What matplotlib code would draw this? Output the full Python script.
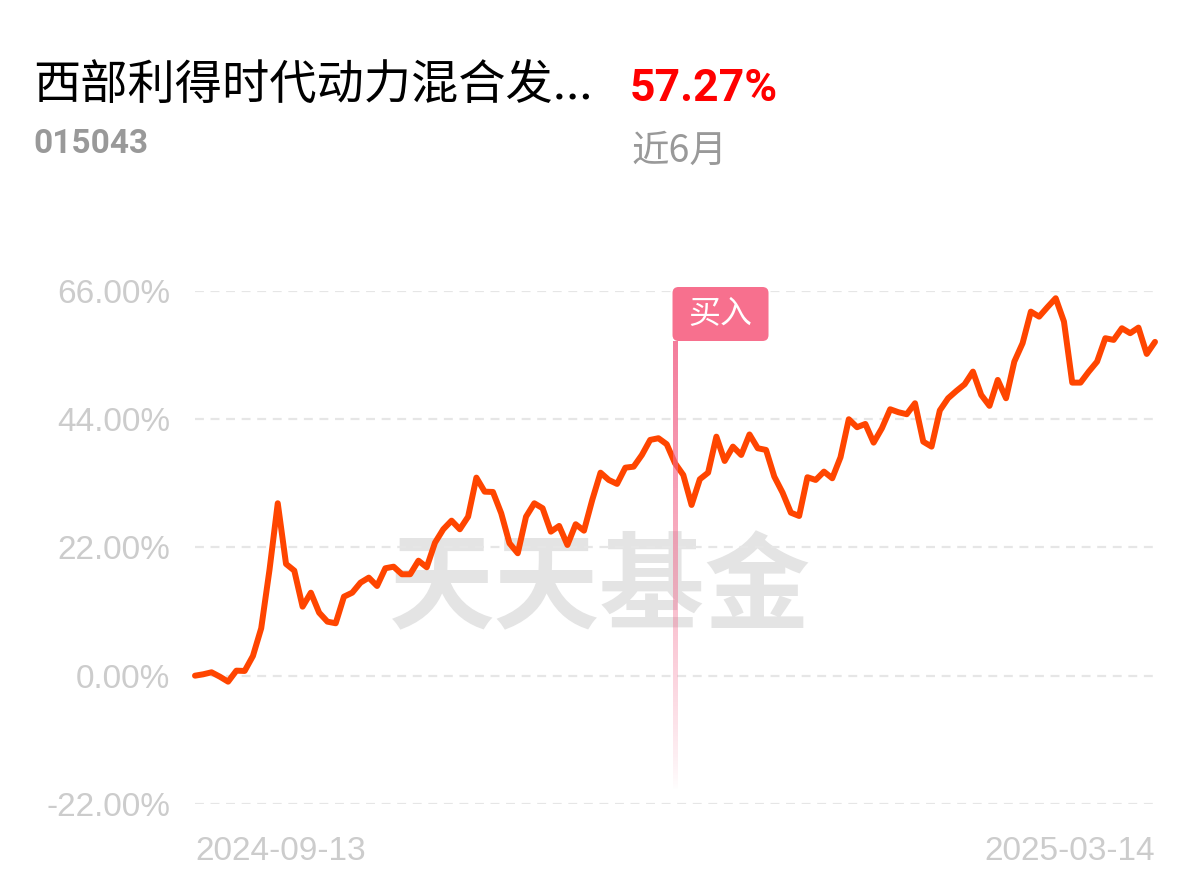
import numpy as np
import matplotlib
matplotlib.use("Agg")
import matplotlib.pyplot as plt
from matplotlib.patches import FancyBboxPatch

plt.rcParams['font.family'] = ['Liberation Sans', 'Noto Sans CJK SC', 'DejaVu Sans']

# cumulative return (%) over the last 6 months, one point per trading day
returns = [
    0.00, 0.24, 0.58, -0.17, -1.03, 0.86, 0.81, 3.38, 8.13, 18.14,
    29.58, 19.17, 18.02, 11.84, 14.24, 10.81, 9.27, 8.99, 13.56, 14.24,
    15.96, 16.82, 15.39, 18.43, 18.70, 17.40, 17.40, 19.73, 18.60, 22.82,
    25.12, 26.60, 25.12, 27.28, 33.98, 31.57, 31.52, 27.87, 22.72, 21.00,
    27.28, 29.58, 28.73, 24.71, 25.69, 22.43, 25.98, 24.88, 30.15, 34.83,
    33.58, 32.90, 35.69, 35.86, 37.87, 40.45, 40.74, 39.71, 36.45, 34.44,
    29.29, 33.70, 34.83, 41.01, 36.84, 39.30, 37.87, 41.39, 39.02, 38.73,
    34.15, 31.40, 27.97, 27.40, 34.05, 33.58, 35.01, 33.87, 37.48, 44.00,
    42.63, 43.19, 39.98, 42.45, 45.71, 45.20, 44.86, 46.74, 40.15, 39.30,
    45.51, 47.60, 48.85, 50.00, 52.17, 48.17, 46.29, 50.74, 47.60, 53.88,
    57.04, 62.46, 61.60, 63.22, 64.76, 60.75, 50.28, 50.28, 52.17, 53.88,
    57.90, 57.61, 59.61, 58.76, 59.72, 55.20, 57.27,
]
y_ticks = [-22, 0, 22, 44, 66]
x_labels = ['2024-09-13', '2025-03-14']
buy_index = 58

fund_name = '西部利得时代动力混合发...'
fund_code = '015043'
period_return = '57.27%'
period_label = '近6月'

fig = plt.figure(figsize=(12, 8.81), dpi=100)
ax = fig.add_axes([195 / 1200, 1 - 803.9 / 881, 960 / 1200, 512.9 / 881])

x = np.arange(len(returns))

# watermark, behind everything in the axes
ax.text(0.5, 1 - 590 / 881, '天天基金', fontsize=76, fontweight='bold',
        color='#e4e4e4', ha='center', va='center', transform=fig.transFigure,
        family=['Noto Sans CJK SC'], zorder=0.5)

for v in y_ticks:
    ax.axhline(v, color='#e6e6e6', lw=1.6, ls=(0, (4, 3)), zorder=1)

ax.plot(x, returns, color='#ff4500', lw=4.3, solid_joinstyle='round',
        solid_capstyle='round', zorder=3, clip_on=False)

# buy marker: fading vertical bar
top_val, bot_val = 57.4, -19.8
n = 200
grad = np.zeros((n, 1, 4))
grad[:, 0, :3] = matplotlib.colors.to_rgb('#f2668a')
grad[:, 0, 3] = 0.85 * np.linspace(1.0, 0.0, n) ** 0.8
ax.imshow(grad, extent=(buy_index - 0.3, buy_index + 0.3, bot_val, top_val),
          aspect='auto', origin='upper', zorder=4, interpolation='bilinear')
ax.set_xlim(0, len(returns) - 1)
ax.set_ylim(y_ticks[0], y_ticks[-1])

# label box
fig.canvas.draw()
px, _ = ax.transData.transform((buy_index - 0.3, 0))
box = FancyBboxPatch((px / 100, (881 - 341) / 100), 0.96, 0.54,
                     boxstyle='round,pad=0,rounding_size=0.06',
                     transform=fig.dpi_scale_trans, facecolor='#f7708e',
                     edgecolor='none', zorder=5)
fig.patches.append(box)
fig.text((px + 48) / 1200, 1 - 314 / 881, '买入', color='white', fontsize=23,
         ha='center', va='center', family=['Noto Sans CJK SC'], zorder=6)

ax.set_yticks(y_ticks)
ax.set_yticklabels([f'{v:.2f}%' for v in y_ticks])
ax.set_xticks([0, len(returns) - 1])
ax.set_xticklabels(x_labels)
lbls = ax.get_xticklabels()
lbls[0].set_ha('left')
lbls[1].set_ha('right')
ax.tick_params(axis='y', length=0, pad=18, labelsize=24, labelcolor='#cccccc')
ax.tick_params(axis='x', length=0, pad=23, labelsize=24, labelcolor='#cccccc')
for s in ax.spines.values():
    s.set_visible(False)

# header
fig.text(33 / 1200, 1 - 87 / 881, fund_name, fontsize=34, color='black',
         ha='left', va='center', family=['Noto Sans CJK SC'])
fig.text(630 / 1200, 1 - 89 / 881, period_return, fontsize=32, color='#ff0000',
         fontweight='bold', ha='left', va='center', family=['Roboto', 'DejaVu Sans'])
fig.text(33 / 1200, 1 - 144 / 881, fund_code, fontsize=24, color='#999999',
         fontweight='bold', ha='left', va='center', family=['Roboto', 'DejaVu Sans'])
fig.text(632 / 1200, 1 - 151 / 881, period_label, fontsize=27, color='#999999',
         ha='left', va='center', family=['Noto Sans CJK SC'])

fig.savefig('out.png', dpi=100, facecolor='white')
